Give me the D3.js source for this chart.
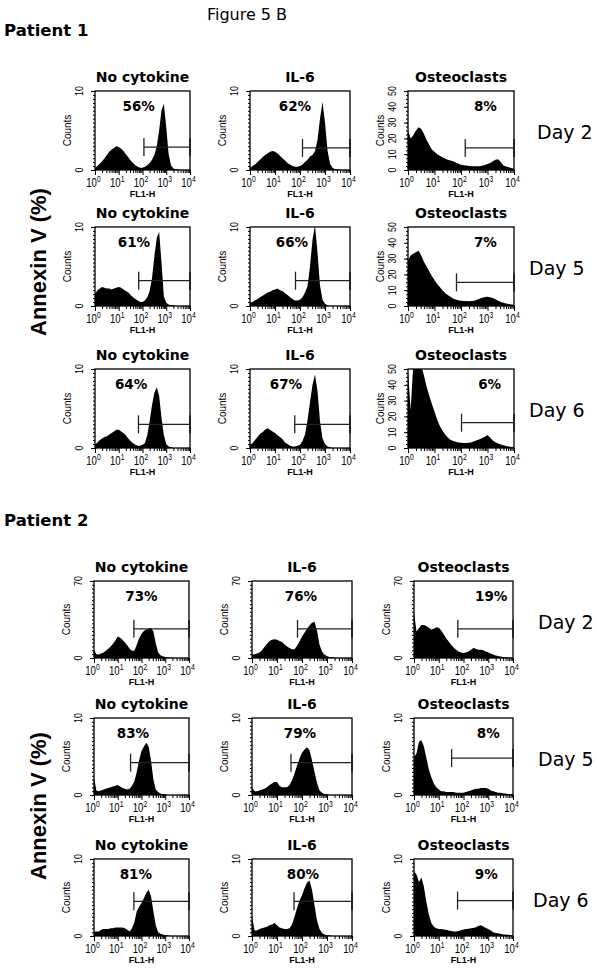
<!DOCTYPE html>
<html><head><meta charset="utf-8">
<script src="https://cdn.jsdelivr.net/npm/d3@7"></script>
<style>body{margin:0;background:#fff}svg{display:block}</style>
</head><body><svg id="c" width="597" height="972"></svg>
<script>
// ---------- DATA ----------
const patients = ["Patient 1", "Patient 2"];
const conditions = ["No cytokine", "IL-6", "Osteoclasts"];
const days = ["Day 2", "Day 5", "Day 6"];
const xTickExponents = ["0", "1", "2", "3", "4"];
// histogram bin positions (log10 of FL1-H)
const binDecades = [0,0.1,0.2,0.3,0.4,0.5,0.6,0.7,0.8,0.9,1,1.1,1.2,1.3,1.4,1.5,1.6,1.7,1.8,1.9,2,2.1,2.2,2.3,2.4,2.5,2.6,2.7,2.8,2.9,3,3.1,3.2,3.3,3.4,3.5,3.6,3.7,3.8,3.9,4];

// percentages [day][condition]
const pct1 = [[56, 62, 8], [61, 66, 7], [64, 67, 6]];
const pct2 = [[73, 76, 19], [83, 79, 8], [81, 80, 9]];
// y-axis maximum counts
const yMax1 = [[10, 10, 50], [10, 10, 50], [10, 10, 50]];
const yMax2 = [[70, 70, 70], [10, 10, 10], [10, 10, 10]];
const yTickSets = { 10: [0, 10], 50: [0, 10, 20, 30, 40, 50], 70: [0, 70] };
// gate start (log10) and gate level (counts)
const gateStart1 = [[2.06, 2.1, 2.16], [1.84, 1.82, 1.83], [1.83, 1.79, 2.02]];
const gateLevel1 = [[2.9, 2.8, 14], [3.2, 3.2, 15], [3.0, 3.0, 16]];
const gateStart2 = [[1.68, 1.82, 1.77], [1.54, 1.56, 1.52], [1.68, 1.68, 1.76]];
const gateLevel2 = [[26.5, 26.5, 26.5], [4.2, 4.2, 4.8], [4.5, 4.5, 4.6]];

// Patient 1 histograms
const p1d2None = [0.3,0.5,0.8,1.1,1.5,1.9,2.3,2.6,2.8,3.0,2.9,2.7,2.4,2.0,1.6,1.2,0.9,0.6,0.4,0.3,0.3,0.4,0.6,0.9,1.3,1.9,3.0,5.0,7.6,8.4,5.4,2.0,0.6,0.2,0.1,0.1,0,0,0,0,0];
const p1d2IL6 = [0.3,0.5,0.7,1.0,1.3,1.6,1.9,2.1,2.3,2.4,2.3,2.1,1.8,1.5,1.2,0.9,0.7,0.5,0.4,0.4,0.5,0.7,1.0,1.3,1.7,1.9,2.4,3.8,6.5,8.6,6.0,2.5,0.8,0.3,0.1,0.1,0,0,0,0,0];
const p1d2Osteo = [25,20,22,25,27,26,23,19,16,13,11.5,10,9,8,7.2,6.5,6,5.5,4.8,4,3.4,3,2.8,2.6,2.4,2.3,2.3,2.4,2.7,3.2,3.8,4.5,5.5,6.5,6.8,5,2.8,2.2,1.8,1.3,0.8];
const p1d5None = [1.5,2.0,2.2,2.4,2.3,2.2,2.2,2.1,2.2,2.3,2.4,2.3,2.1,1.9,1.7,1.4,1.1,0.9,0.7,0.5,0.5,0.7,1.1,1.9,3.5,6.3,8.6,9.4,5.5,1.2,0.4,0.2,0.1,0.1,0,0,0,0,0,0,0];
const p1d5IL6 = [0.4,0.5,0.7,0.9,1.1,1.3,1.5,1.7,1.8,2.0,2.1,2.2,2.0,1.9,1.6,1.4,1.1,0.9,0.7,0.7,0.8,1.1,1.7,2.5,5.0,8.4,10.2,6.8,2.6,0.8,0.3,0.1,0,0,0,0,0,0,0,0,0];
const p1d5Osteo = [29,32,33,34,35,32,28,25,22,19,16.5,14,12,10,8.3,7,5.8,4.8,4.1,3.7,3.4,3.2,3.1,3.0,3.1,3.4,3.9,4.6,5.2,5.7,5.8,5.5,5.0,4.2,3.4,2.6,2.0,1.6,1.2,1.0,0.8];
const p1d6None = [0.4,0.7,1.0,1.2,1.4,1.5,1.7,1.9,2.1,2.3,2.3,2.1,1.9,1.6,1.2,0.9,0.6,0.4,0.3,0.3,0.4,0.6,1.6,3.4,5.4,7.0,7.7,6.6,3.8,1.6,0.5,0.2,0.1,0,0,0,0,0,0,0,0];
const p1d6IL6 = [0.4,0.6,1.0,1.4,1.8,2.0,2.3,2.5,2.3,2.1,1.9,1.6,1.4,1.1,0.7,0.5,0.3,0.2,0.2,0.3,0.4,0.9,1.7,3.5,5.8,8.0,9.3,7.2,3.4,1.2,0.5,0.2,0.1,0,0,0,0,0,0,0,0];
const p1d6Osteo = [49,24,53,56,55,52,46,39,33,28,23,18,14,11,8.5,6.6,5.3,4.5,3.9,3.5,3.3,3.2,3.2,3.4,3.7,4.2,4.9,5.6,6.3,7.1,8.3,6.5,4.8,3.6,2.8,2.2,1.7,1.3,1.0,0.7,0.5];
// Patient 2 histograms
const p2d2None = [7.5,3.5,3.2,4.0,5.0,6.5,8.5,10.5,13,16,19.5,18.5,16.5,14,11.5,8.5,6.5,6.5,12,18,22,24.5,26,26.5,27.5,24,13.5,5,2.5,1.5,1,0.7,0.5,0.3,0.2,0.1,0,0,0,0,0];
const p2d2IL6 = [3,3.5,4,5,7,10,13,15.5,16.5,17,16.5,15.5,14.5,12.5,10.5,9,8,8,11,15,19.5,23,26.5,29.5,32,33,25,12,6,3,1.8,1,0.6,0.3,0.2,0.1,0,0,0,0,0];
const p2d2Osteo = [42,24,27,30,30,29,27.5,26,26.5,28,27.5,25,21.5,18,15,12,9.5,7.5,6,5,4.5,5,6,7.5,9,8.5,7.5,7.5,7,6,5,4.2,3.2,2.3,1.8,1.4,1,0.7,0.4,0.2,0.1];
const p2d5None = [2.3,0.6,0.5,0.6,0.7,0.8,0.9,1.0,1.1,1.2,1.3,1.1,0.9,0.8,0.7,0.8,1.2,1.8,3.0,4.5,5.7,6.3,6.8,6.3,4.5,2.0,0.7,0.4,0.2,0.1,0.1,0,0,0,0,0,0,0,0,0,0];
const p2d5IL6 = [1.0,0.5,0.5,0.6,0.7,0.8,1.0,1.3,1.5,1.7,1.7,1.2,1.0,1.0,1.0,1.3,1.9,2.8,3.8,4.7,5.5,5.9,6.2,5.8,4.5,3.0,1.6,0.6,0.3,0.1,0.1,0,0,0,0,0,0,0,0,0,0];
const p2d5Osteo = [4.9,5.4,6.9,7.1,6.3,4.8,3.3,2.3,1.5,1.0,0.7,0.5,0.5,0.4,0.4,0.4,0.4,0.3,0.3,0.3,0.3,0.4,0.5,0.6,0.7,0.8,0.8,0.9,0.9,0.9,0.8,0.6,0.5,0.4,0.3,0.3,0.2,0.2,0.1,0.1,0.1];
const p2d6None = [0.6,0.6,0.6,0.8,0.9,0.9,0.9,1.0,1.0,1.1,1.1,1.1,1.1,1.0,0.8,0.6,1.0,1.8,3.2,3.8,4.3,4.9,5.6,6.0,5.2,3.2,1.4,0.5,0.3,0.2,0.1,0.1,0,0,0,0,0,0,0,0,0];
const p2d6IL6 = [2.6,0.7,0.7,0.9,1.0,1.1,1.2,1.4,1.5,1.7,1.4,1.1,1.0,0.9,0.9,1.0,1.5,2.5,3.6,4.6,5.3,6.2,6.9,7.2,6.0,4.0,2.0,0.9,0.4,0.2,0.1,0.1,0,0,0,0,0,0,0,0,0];
const p2d6Osteo = [8.4,8.0,7.0,7.6,6.4,4.4,2.8,1.7,1.2,1.0,0.9,0.9,0.85,0.8,0.7,0.65,0.6,0.6,0.65,0.75,0.85,0.9,0.95,1.0,1.05,1.15,1.3,1.4,1.25,1.05,0.9,0.7,0.5,0.4,0.35,0.3,0.2,0.2,0.15,0.1,0.1];

const hist1 = [[p1d2None, p1d2IL6, p1d2Osteo], [p1d5None, p1d5IL6, p1d5Osteo], [p1d6None, p1d6IL6, p1d6Osteo]];
const hist2 = [[p2d2None, p2d2IL6, p2d2Osteo], [p2d5None, p2d5IL6, p2d5Osteo], [p2d6None, p2d6IL6, p2d6Osteo]];

const patientData = [
  { pct: pct1, yMax: yMax1, gs: gateStart1, gl: gateLevel1, hist: hist1 },
  { pct: pct2, yMax: yMax2, gs: gateStart2, gl: gateLevel2, hist: hist2 }
];

// ---------- LAYOUT ----------
const colX = [[95, 250, 408], [94, 252, 414]];
const colW = [[95, 100, 106], [95, 100, 99]];
const rowY = [[91, 227, 369], [581, 718, 859]];
const rowH = [79, 77];
const dayX = [[537, 529, 529], [538, 538, 533]];
const pctFrac = [[[0.46, 0.45, 0.73], [0.41, 0.42, 0.73], [0.38, 0.36, 0.77]],
                 [[0.50, 0.49, 0.78], [0.41, 0.48, 0.75], [0.44, 0.51, 0.73]]];
const patientLabelY = [36, 526];
const annexinY = [262, 806];

const svg = d3.select("#c");
const SANS = "'DejaVu Sans', sans-serif";
const ARIAL = "'Liberation Sans', Arial, sans-serif";

svg.append("text").attr("x", 247).attr("y", 20).attr("text-anchor", "middle")
  .style("font-family", SANS).style("font-size", "16px").text("Figure 5 B");

let clipId = 0;
patients.forEach((pname, pi) => {
  const P = patientData[pi];
  svg.append("text").attr("x", 4).attr("y", patientLabelY[pi])
    .style("font-family", SANS).style("font-weight", "bold").style("font-size", "16.5px").text(pname);
  svg.append("text").attr("transform", `translate(46,${annexinY[pi]}) rotate(-90)`)
    .attr("text-anchor", "middle").style("font-family", ARIAL).style("font-weight", "bold")
    .style("font-size", "22px").text("Annexin V (%)");

  days.forEach((day, di) => {
    const top = rowY[pi][di], h = rowH[pi];
    svg.append("text").attr("x", dayX[pi][di]).attr("y", top + 48)
      .style("font-family", SANS).style("font-size", "19px").text(day);

    conditions.forEach((cond, ci) => {
      const left = colX[pi][ci], w = colW[pi][ci];
      const ymax = P.yMax[di][ci];
      const g = svg.append("g").attr("transform", `translate(${left},${top})`);
      const x = d3.scaleLog().domain([1, 1e4]).range([0, w]);
      const y = d3.scaleLinear().domain([0, ymax]).range([h, 0]);

      const cid = "clip" + (clipId++);
      g.append("clipPath").attr("id", cid).append("rect").attr("width", w).attr("height", h);

      const vals = P.hist[di][ci].map((v, i) => ({ d: binDecades[i], v }));
      const area = d3.area().x(d => x(Math.pow(10, d.d))).y0(h).y1(d => y(d.v)).curve(d3.curveLinear);
      g.append("path").datum(vals).attr("d", area).attr("fill", "#000")
        .attr("clip-path", `url(#${cid})`);

      // box
      g.append("rect").attr("width", w).attr("height", h).attr("fill", "none")
        .attr("stroke", "#000").attr("stroke-width", 1.3);

      // x axis minor/major ticks
      const allTicks = x.ticks();
      const majors = allTicks.filter(t => Math.abs(Math.log10(t) - Math.round(Math.log10(t))) < 1e-9);
      const minors = allTicks.filter(t => !majors.includes(t));
      const xMinor = g.append("g").attr("transform", `translate(0,${h})`)
        .call(d3.axisBottom(x).tickValues(minors).tickSize(3).tickFormat(""));
      const xMajor = g.append("g").attr("transform", `translate(0,${h})`)
        .call(d3.axisBottom(x).tickValues(majors).tickSize(5).tickFormat(""));
      [xMinor, xMajor].forEach(a => { a.select(".domain").remove(); a.selectAll("line").attr("stroke", "#000").attr("stroke-width", 1); });

      majors.forEach((t, k) => {
        const tx = g.append("text").attr("transform", `translate(${x(t) - 1.5},${h + 17}) scale(0.8,1)`)
          .attr("text-anchor", "middle")
          .style("font-family", ARIAL).style("font-size", "12px");
        tx.append("tspan").text("10");
        tx.append("tspan").attr("dy", -5.5).style("font-size", "8.5px").text(xTickExponents[k]);
      });
      g.append("text").attr("x", w / 2).attr("y", h + 27).attr("text-anchor", "middle")
        .style("font-family", ARIAL).style("font-weight", "bold").style("font-size", "9px").text("FL1-H");

      // y axis ticks
      const yMajorVals = yTickSets[ymax];
      const yMinorVals = d3.range(0, ymax + 1e-9, ymax / 20);
      const yMin = g.append("g").call(d3.axisLeft(y).tickValues(yMinorVals).tickSize(2).tickFormat(""));
      const yMaj = g.append("g").call(d3.axisLeft(y).tickValues(yMajorVals).tickSize(4).tickFormat(""));
      [yMin, yMaj].forEach(a => { a.select(".domain").remove(); a.selectAll("line").attr("stroke", "#000").attr("stroke-width", 1); });
      yMajorVals.forEach(v => {
        g.append("text").attr("transform", `translate(-12,${y(v)}) rotate(-90) scale(0.85,1)`)
          .attr("text-anchor", "middle").style("font-family", ARIAL).style("font-size", "10.5px").text(v);
      });
      g.append("text").attr("transform", `translate(-24,${h / 2}) rotate(-90)`)
        .attr("text-anchor", "middle").style("font-family", ARIAL).style("font-size", "10px").text("Counts");

      // gate
      const gx0 = x(Math.pow(10, P.gs[di][ci])), gy = y(P.gl[di][ci]);
      const gate = g.append("g").attr("stroke", "#222").attr("stroke-width", 1.3);
      gate.append("line").attr("x1", gx0).attr("x2", w).attr("y1", gy).attr("y2", gy);
      gate.append("line").attr("x1", gx0).attr("x2", gx0).attr("y1", gy - 9).attr("y2", gy + 9);
      gate.append("line").attr("x1", w).attr("x2", w).attr("y1", gy - 9).attr("y2", gy + 9).attr("stroke-width", 2);

      // title & percentage
      g.append("text").attr("x", w / 2).attr("y", -9).attr("text-anchor", "middle")
        .style("font-family", SANS).style("font-weight", "bold").style("font-size", "14px").text(cond);
      g.append("text").attr("x", w * pctFrac[pi][di][ci]).attr("y", 20).attr("text-anchor", "middle")
        .style("font-family", SANS).style("font-weight", "bold").style("font-size", "13.5px")
        .text(P.pct[di][ci] + "%");
    });
  });
});
</script>
</body></html>
